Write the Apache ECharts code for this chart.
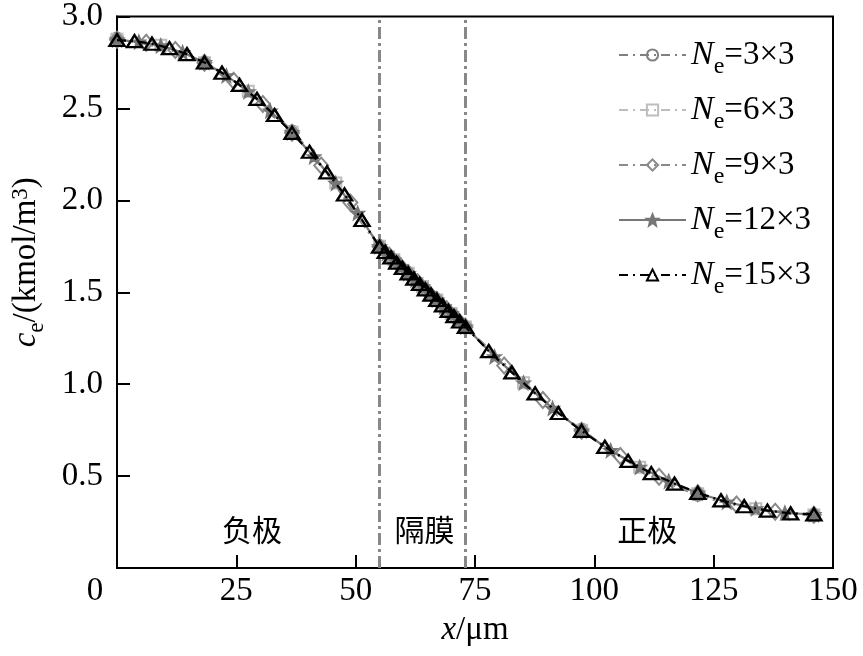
<!DOCTYPE html>
<html>
<head>
<meta charset="utf-8">
<script src="https://cdn.jsdelivr.net/npm/echarts@6/dist/echarts.min.js"></script>
<style>
  html, body { margin: 0; padding: 0; background: #fff; }
  #chart { width: 863px; height: 656px; }
</style>
</head>
<body>
<div id="chart"></div>
<script>
// 网格节点位置 (μm) 与电解液浓度 (kmol/m3)
const x3 = [0, 18.33, 36.67, 55, 61, 67, 73, 97.33, 121.67, 146]
const c3 = [2.88, 2.745, 2.375, 1.752, 1.605, 1.458, 1.310, 0.752, 0.398, 0.285]

const x6 = [0, 9.17, 18.33, 27.5, 36.67, 45.83, 55, 58, 61, 64, 67, 70, 73,
  85.17, 97.33, 109.5, 121.67, 133.83, 146]
const c6 = [2.876, 2.843, 2.748, 2.593, 2.370, 2.094, 1.750, 1.677, 1.604, 1.531, 1.458, 1.385, 1.311,
  1.008, 0.749, 0.548, 0.404, 0.322, 0.288]

const x9 = [0, 6.11, 12.22, 18.33, 24.44, 30.56, 36.67, 42.78, 48.89, 55,
  57, 59, 61, 63, 65, 67, 69, 71, 73,
  81.11, 89.22, 97.33, 105.44, 113.56, 121.67, 129.78, 137.89, 146]
const c9 = [2.874, 2.857, 2.818, 2.749, 2.651, 2.524, 2.368, 2.190, 1.988, 1.749,
  1.700, 1.652, 1.604, 1.555, 1.506, 1.458, 1.409, 1.360, 1.311,
  1.101, 0.914, 0.747, 0.609, 0.496, 0.407, 0.345, 0.306, 0.290]

const x12 = [0, 4.58, 9.17, 13.75, 18.33, 22.92, 27.5, 32.08, 36.67, 41.25, 45.83, 50.42, 55,
  56.5, 58, 59.5, 61, 62.5, 64, 65.5, 67, 68.5, 70, 71.5, 73,
  79.08, 85.17, 91.25, 97.33, 103.42, 109.5, 115.58, 121.67, 127.75, 133.83, 139.92, 146]
const c12 = [2.873, 2.862, 2.841, 2.804, 2.750, 2.678, 2.591, 2.487, 2.368, 2.237, 2.093, 1.930, 1.748,
  1.712, 1.676, 1.639, 1.603, 1.567, 1.530, 1.494, 1.458, 1.421, 1.385, 1.348, 1.312,
  1.150, 1.007, 0.869, 0.746, 0.639, 0.549, 0.472, 0.408, 0.359, 0.323, 0.300, 0.291]

const x15 = [0, 3.67, 7.33, 11, 14.67, 18.33, 22, 25.67, 29.33, 33, 36.67, 40.33, 44, 47.67, 51.33, 55,
  56.2, 57.4, 58.6, 59.8, 61, 62.2, 63.4, 64.6, 65.8, 67, 68.2, 69.4, 70.6, 71.8, 73,
  77.87, 82.73, 87.6, 92.47, 97.33, 102.2, 107.07, 111.93, 116.8, 121.67, 126.53, 131.4, 136.27, 141.13, 146]
const c15 = [2.872, 2.866, 2.852, 2.828, 2.795, 2.750, 2.694, 2.628, 2.552, 2.464, 2.367, 2.264, 2.152, 2.032, 1.893, 1.748,
  1.719, 1.690, 1.661, 1.632, 1.603, 1.574, 1.545, 1.516, 1.487, 1.458, 1.429, 1.399, 1.370, 1.341, 1.312,
  1.180, 1.064, 0.950, 0.843, 0.746, 0.659, 0.583, 0.516, 0.459, 0.409, 0.368, 0.336, 0.312, 0.297, 0.292]

const meshNames = ['3×3', '6×3', '9×3', '12×3', '15×3']
const boundaries = [55, 73]
const regionNames = ['负极', '隔膜', '正极']
const regionPos = [[28.3, 0.21], [64.4, 0.21], [111.1, 0.21]]

const serif = '"Liberation Serif", "DejaVu Serif", serif'
const cjk = '"Noto Sans CJK SC", sans-serif'

function pairs(xs, ys) {
  return xs.map((x, i) => [x, ys[i]])
}

const chart = echarts.init(document.getElementById('chart'))

const dashDot = [9, 5, 2, 5]
const styles = [
  { data: pairs(x3, c3), color: '#808080', symbol: 'circle', size: 12, type: dashDot, smooth: 0.4 },
  { data: pairs(x6, c6), color: '#bdbdbd', symbol: 'rect', size: 11, type: dashDot, smooth: 0.3 },
  { data: pairs(x9, c9), color: '#8a8a8a', symbol: 'diamond', size: [14, 16], type: dashDot, smooth: 0.2 },
  { data: pairs(x12, c12), color: '#777777', symbol: 'star', size: 12, type: 'solid', smooth: 0 },
  { data: pairs(x15, c15), color: '#000000', symbol: 'triangle', size: [15, 12], type: dashDot, smooth: 0 },
]
const starPath = 'path://M0,-10 L2.9,-3.1 L9.5,-3.1 L4.2,1.2 L5.9,8.1 L0,4 L-5.9,8.1 L-4.2,1.2 L-9.5,-3.1 L-2.9,-3.1 Z'

const series = styles.map((s, i) => ({
  name: meshNames[i],
  type: 'line',
  data: s.data,
  smooth: s.smooth,
  symbol: s.symbol === 'star' ? starPath : s.symbol,
  symbolSize: s.size,
  showAllSymbol: true,
  lineStyle: { color: s.color, width: 2.2, type: s.type },
  itemStyle: {
    color: s.symbol === 'star' ? s.color : 'rgba(255,255,255,0)',
    borderColor: s.color,
    borderWidth: i === 4 ? 2.4 : 2,
  },
  z: 2 + i,
}))

// 区域分界线和区域名称
series[4].markLine = {
  silent: true,
  symbol: ['none', 'none'],
  label: { show: false },
  lineStyle: { color: '#888888', width: 3, type: [12, 4, 3, 4] },
  data: boundaries.map(b => ({ xAxis: b })),
}
series[4].markPoint = {
  silent: true,
  symbol: 'circle',
  symbolSize: 0,
  label: {
    show: true,
    position: 'inside',
    color: '#000',
    fontFamily: cjk,
    fontSize: 30,
    formatter: p => p.name,
  },
  data: regionNames.map((n, i) => ({ name: n, coord: regionPos[i] })),
}

chart.setOption({
  animation: false,
  backgroundColor: '#fff',
  grid: {
    left: 117,
    right: 30,
    top: 16,
    bottom: 88,
    show: true,
    borderColor: '#000',
    borderWidth: 2,
  },
  legend: {
    orient: 'vertical',
    left: 613,
    top: 33,
    itemWidth: 67,
    itemHeight: 14,
    itemGap: 14,
    data: meshNames,
    formatter: name => '{i|N}{s|e}{n|=' + name + '}',
    textStyle: {
      color: '#000',
      fontFamily: serif,
      fontSize: 33,
      lineHeight: 30,
      rich: {
        i: { fontFamily: serif, fontSize: 34, fontStyle: 'italic', lineHeight: 30, color: '#000' },
        s: { fontFamily: serif, fontSize: 24, lineHeight: 30, verticalAlign: 'top', padding: [15, 0, 0, 0], color: '#000' },
        n: { fontFamily: serif, fontSize: 33, lineHeight: 30, color: '#000' },
      },
    },
  },
  xAxis: {
    type: 'value',
    min: 0,
    max: 150,
    interval: 25,
    name: '{i|x}{n|/μm}',
    nameLocation: 'middle',
    nameGap: 46,
    nameTextStyle: {
      rich: {
        i: { fontFamily: serif, fontSize: 33, fontStyle: 'italic', color: '#000' },
        n: { fontFamily: serif, fontSize: 33, color: '#000' },
      },
    },
    axisLine: { lineStyle: { color: '#000', width: 2 } },
    axisTick: { inside: true, length: 13, lineStyle: { color: '#000', width: 2 } },
    axisLabel: {
      color: '#000',
      fontFamily: serif,
      fontSize: 33,
      margin: 7,
      formatter: v => (v === 0 ? '{z|0}' : String(v)),
      rich: {
        z: { fontFamily: serif, fontSize: 33, color: '#000', padding: [0, 44, 0, 0] },
      },
    },
    splitLine: { show: false },
  },
  yAxis: {
    type: 'value',
    min: 0,
    max: 3,
    interval: 0.5,
    name: '{i|c}{s|e}{n|/(kmol/m}{p|3}{n|)}',
    nameLocation: 'middle',
    nameGap: 76,
    nameTextStyle: {
      padding: [0, 0, 0, 60],
      rich: {
        i: { fontFamily: serif, fontSize: 33, fontStyle: 'italic', lineHeight: 30, color: '#000' },
        s: { fontFamily: serif, fontSize: 23, lineHeight: 30, verticalAlign: 'top', padding: [14, 0, 0, 0], color: '#000' },
        n: { fontFamily: serif, fontSize: 33, lineHeight: 30, color: '#000' },
        p: { fontFamily: serif, fontSize: 23, lineHeight: 30, verticalAlign: 'bottom', padding: [0, 0, 9, 0], color: '#000' },
      },
    },
    axisLine: { lineStyle: { color: '#000', width: 2 } },
    axisTick: { inside: true, length: 13, lineStyle: { color: '#000', width: 2 } },
    axisLabel: {
      color: '#000',
      fontFamily: serif,
      fontSize: 33,
      margin: 14,
      formatter: v => (v === 0 ? '' : v.toFixed(1)),
    },
    splitLine: { show: false },
  },
  series: series,
})
</script>
</body>
</html>
